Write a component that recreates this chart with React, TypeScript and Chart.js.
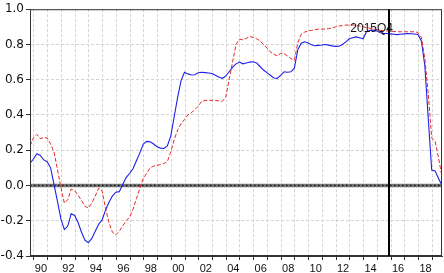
import { useEffect, useRef } from 'react';
import { Chart, registerables } from 'chart.js';

Chart.register(...registerables);

// Quarterly observations 1989Q4 .. 2019Q4
const firstYear = 1989;
const firstQuarter = 4;
const lastYear = 2019;

const blueSeries: number[] = [
  0.126,
  0.15, 0.18, 0.17, 0.145, // 1990
  0.135, 0.10, 0.005, -0.09, // 1991
  -0.19, -0.25, -0.23, -0.16, // 1992
  -0.17, -0.21, -0.265, -0.31, // 1993
  -0.325, -0.30, -0.26, -0.22, // 1994
  -0.195, -0.14, -0.095, -0.06, // 1995
  -0.038, -0.035, 0.005, 0.045, // 1996
  0.068, 0.095, 0.14, 0.185, // 1997
  0.235, 0.25, 0.248, 0.235, // 1998
  0.22, 0.212, 0.21, 0.225, // 1999
  0.28, 0.39, 0.5, 0.595, // 2000
  0.642, 0.633, 0.627, 0.628, // 2001
  0.64, 0.642, 0.64, 0.638, // 2002
  0.635, 0.625, 0.615, 0.608, // 2003
  0.62, 0.645, 0.67, 0.69, // 2004
  0.7, 0.69, 0.695, 0.7, // 2005
  0.702, 0.695, 0.675, 0.655, // 2006
  0.64, 0.625, 0.61, 0.608, // 2007
  0.625, 0.645, 0.642, 0.645, // 2008
  0.665, 0.77, 0.807, 0.815, // 2009
  0.808, 0.798, 0.793, 0.795, // 2010
  0.797, 0.8, 0.796, 0.792, // 2011
  0.789, 0.79, 0.8, 0.815, // 2012
  0.832, 0.838, 0.843, 0.838, // 2013
  0.832, 0.872, 0.88, 0.882, // 2014
  0.877, 0.866, 0.863, 0.862, // 2015
  0.86, 0.858, 0.856, 0.858, // 2016
  0.86, 0.862, 0.861, 0.859, // 2017
  0.857, 0.82, 0.68, 0.38, // 2018
  0.088, 0.083, 0.04, 0.0, // 2019
];

const redSeries: number[] = [
  0.225,
  0.27, 0.29, 0.265, 0.272, // 1990
  0.27, 0.235, 0.19, 0.09, // 1991
  -0.01, -0.1, -0.08, -0.02, // 1992
  -0.03, -0.055, -0.085, -0.118, // 1993
  -0.128, -0.1, -0.06, -0.015, // 1994
  -0.03, -0.13, -0.21, -0.265, // 1995
  -0.28, -0.26, -0.23, -0.2, // 1996
  -0.18, -0.135, -0.075, -0.015, // 1997
  0.04, 0.07, 0.1, 0.11, // 1998
  0.115, 0.118, 0.125, 0.135, // 1999
  0.19, 0.26, 0.315, 0.35, // 2000
  0.375, 0.4, 0.413, 0.43, // 2001
  0.45, 0.478, 0.482, 0.483, // 2002
  0.483, 0.482, 0.48, 0.477, // 2003
  0.5, 0.6, 0.7, 0.8, // 2004
  0.83, 0.826, 0.835, 0.845, // 2005
  0.84, 0.832, 0.82, 0.8, // 2006
  0.78, 0.758, 0.745, 0.735, // 2007
  0.75, 0.748, 0.735, 0.72, // 2008
  0.71, 0.81, 0.858, 0.87, // 2009
  0.877, 0.88, 0.885, 0.886, // 2010
  0.887, 0.888, 0.89, 0.893, // 2011
  0.9, 0.905, 0.907, 0.91, // 2012
  0.91, 0.91, 0.909, 0.905, // 2013
  0.9, 0.896, 0.892, 0.888, // 2014
  0.884, 0.88, 0.878, 0.877, // 2015
  0.875, 0.874, 0.872, 0.872, // 2016
  0.872, 0.872, 0.872, 0.872, // 2017
  0.868, 0.84, 0.72, 0.52, // 2018
  0.27, 0.25, 0.155, 0.05, // 2019
];

const yTickValues = [-0.4, -0.2, 0.0, 0.2, 0.4, 0.6, 0.8, 1.0];
const markerLabel = '2015Q4';

const quarterLabels: string[] = [];
for (let y = firstYear; y <= lastYear; y++) {
  for (let q = 1; q <= 4; q++) {
    if (y === firstYear && q < firstQuarter) continue;
    quarterLabels.push(`${y}Q${q}`);
  }
}

const quarterToTime = (label: string) => {
  const y = Number(label.slice(0, 4));
  const q = Number(label.slice(5));
  return y + (q - 1) / 4 - 0.04;
};

const yearTicks: number[] = [];
for (let y = firstYear + 1; y <= lastYear; y++) yearTicks.push(y);

const overlay = {
  id: 'overlay',
  beforeDatasetsDraw(chart: any) {
    const { ctx, chartArea: a, scales } = chart;
    const y0 = Math.round(scales.y.getPixelForValue(0)) + 0.5;
    ctx.save();
    ctx.strokeStyle = '#777';
    ctx.lineWidth = 3.5;
    ctx.beginPath();
    ctx.moveTo(a.left, y0);
    ctx.lineTo(a.right, y0);
    ctx.stroke();
    ctx.strokeStyle = '#111';
    ctx.lineWidth = 1.5;
    ctx.setLineDash([1.5, 2.5]);
    ctx.beginPath();
    ctx.moveTo(a.left, y0);
    ctx.lineTo(a.right, y0);
    ctx.stroke();
    ctx.restore();
  },
  afterDatasetsDraw(chart: any) {
    const { ctx, chartArea: a, scales } = chart;
    ctx.save();
    ctx.strokeStyle = '#333';
    ctx.lineWidth = 1;
    ctx.strokeRect(a.left + 0.5, a.top + 0.5, a.right - a.left - 1, a.bottom - a.top - 1);
    const lx = Math.round(scales.x.getPixelForValue(quarterToTime(markerLabel) + 0.125));
    ctx.strokeStyle = '#000';
    ctx.lineWidth = 2;
    ctx.beginPath();
    ctx.moveTo(lx, a.top);
    ctx.lineTo(lx, a.bottom);
    ctx.stroke();
    ctx.fillStyle = '#111';
    ctx.font = '12px "Liberation Sans", Arial, sans-serif';
    ctx.textAlign = 'right';
    ctx.textBaseline = 'middle';
    ctx.fillText(markerLabel, lx + 4, a.top + 19);
    ctx.restore();
  },
};

export default function App() {
  const ref = useRef<HTMLCanvasElement | null>(null);
  useEffect(() => {
    document.body.style.margin = '0';
    const canvas = ref.current;
    if (!canvas) return;
    const xs = quarterLabels.map(quarterToTime);
    const chart = new Chart(canvas, {
      type: 'line',
      data: {
        datasets: [
          {
            label: 'red',
            data: redSeries.map((v, i) => ({ x: xs[i], y: v })),
            borderColor: 'rgb(232,40,40)',
            borderWidth: 1,
            borderDash: [4, 2],
            pointRadius: 0,
            tension: 0,
            fill: false,
          },
          {
            label: 'blue',
            data: blueSeries.map((v, i) => ({ x: xs[i], y: v })),
            borderColor: 'rgb(30,30,235)',
            borderWidth: 1.1,
            pointRadius: 0,
            tension: 0,
            fill: false,
          },
        ],
      },
      options: {
        responsive: false,
        animation: false,
        layout: { padding: { top: 7, right: 2, left: 0, bottom: 0 } },
        plugins: { legend: { display: false }, tooltip: { enabled: false } },
        scales: {
          x: {
            type: 'linear',
            min: xs[0],
            max: xs[xs.length - 1],
            afterBuildTicks: (axis: any) => {
              axis.ticks = yearTicks.map((v) => ({ value: v }));
            },
            afterFit: (scale: any) => {
              scale.height = 17;
            },
            ticks: {
              autoSkip: false,
              maxRotation: 0,
              minRotation: 0,
              labelOffset: 7,
              padding: 2,
              color: '#111',
              font: { family: '"Liberation Sans", Arial, sans-serif', size: 11 },
              callback: (v: any) => (Number(v) % 2 === 0 ? String(v).slice(2) : ''),
            },
            grid: {
              color: '#d4d4d4',
              lineWidth: 1,
              tickColor: '#333',
              tickLength: 4,
              tickBorderDash: [],
            },
            border: { display: true, color: '#333', dash: [3, 2] },
          },
          y: {
            min: -0.4,
            max: 1.0,
            afterBuildTicks: (axis: any) => {
              axis.ticks = yTickValues.map((v) => ({ value: v }));
            },
            afterFit: (scale: any) => {
              scale.width = 30;
            },
            ticks: {
              padding: 2,
              color: '#111',
              font: { family: '"DejaVu Sans", sans-serif', size: 12 },
              callback: (v: any) => Number(v).toFixed(1),
            },
            grid: {
              color: '#d4d4d4',
              lineWidth: 1,
              tickColor: '#333',
              tickLength: 4,
              tickBorderDash: [],
            },
            border: { display: true, color: '#333', dash: [3, 2] },
          },
        },
      },
      plugins: [overlay],
    });
    return () => chart.destroy();
  }, []);
  return (
    <div style={{ width: 444, height: 273 }}>
      <canvas ref={ref} width={444} height={273} />
    </div>
  );
}
